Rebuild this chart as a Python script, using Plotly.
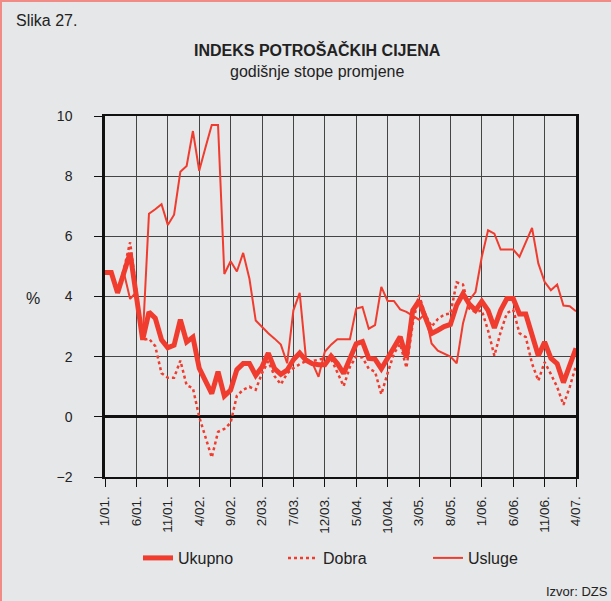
import plotly.graph_objects as go

# month index 0 = 1/01 ... 75 = 4/07
tick_labels = ["1/01.", "6/01.", "11/01.", "4/02.", "9/02.", "2/03.", "7/03.", "12/03.",
               "5/04.", "10/04.", "3/05.", "8/05.", "1/06.", "6/06.", "11/06.", "4/07."]

ukupno = [4.8, 4.8, 4.12, 4.8, 5.45, 4.0, 2.56, 3.48, 3.28, 2.56,
          2.3, 2.38, 3.23, 2.49, 2.65, 1.62, 1.16, 0.77, 1.5, 0.69,
          0.89, 1.57, 1.77, 1.77, 1.38, 1.66, 2.12, 1.6, 1.41, 1.55,
          1.9, 2.12, 1.88, 1.77, 1.73, 1.73, 2.02, 1.77, 1.44, 1.93,
          2.43, 2.5, 1.94, 1.92, 1.6, 1.95, 2.3, 2.66, 1.97, 3.54,
          3.85, 3.3, 2.77, 2.88, 3.0, 3.07, 3.72, 4.09, 3.75, 3.54,
          3.84, 3.54, 2.96, 3.54, 3.93, 3.93, 3.42, 3.42, 2.65, 2.03,
          2.49, 1.95, 1.77, 1.14, 1.71, 2.28]

dobra = [4.8, 4.75, 4.2, 4.9, 5.8, 4.1, 2.56, 2.6, 2.35, 1.45,
         1.3, 1.3, 1.87, 1.05, 0.95, 0.0, -0.65, -1.35, -0.5, -0.4,
         -0.2, 0.7, 0.9, 1.0, 0.9, 1.45, 1.85, 1.35, 1.08, 1.44,
         1.62, 1.75, 1.85, 1.85, 1.9, 1.95, 1.93, 1.5, 1.02, 1.66,
         2.0, 1.97, 1.6, 1.5, 0.75, 1.45, 2.1, 2.43, 1.63, 3.09,
         4.05, 3.4, 3.0, 3.25, 3.4, 3.43, 4.47, 4.4, 3.6, 3.48,
         3.54, 2.87, 2.03, 2.82, 3.45, 3.56, 2.78, 2.65, 1.77, 1.2,
         1.82, 1.42, 0.99, 0.4, 0.99, 1.71]

usluge = [4.8, 4.8, 4.15, 4.8, 3.92, 4.15, 2.56, 6.75, 6.9, 7.07,
          6.38, 6.72, 8.15, 8.34, 9.5, 8.18, 8.95, 9.7, 9.7, 4.75,
          5.17, 4.83, 5.45, 4.59, 3.2, 2.98, 2.78, 2.6, 2.4, 1.78,
          3.54, 4.12, 1.95, 1.8, 1.33, 2.16, 2.4, 2.58, 2.58, 2.58,
          3.6, 3.65, 2.93, 3.05, 4.32, 3.85, 3.85, 3.57, 3.49, 3.35,
          3.23, 3.43, 2.44, 2.2, 2.1, 2.0, 1.78, 3.1, 3.88, 4.15,
          5.32, 6.2, 6.09, 5.56, 5.56, 5.56, 5.32, 5.8, 6.28, 5.1,
          4.49, 4.21, 4.4, 3.7, 3.68, 3.51]

months = list(range(len(ukupno)))
tick_pos = list(range(0, len(ukupno), 5))

RED = "#f03c2e"
BG = "#e6e7e9"
GRID = "#444444"
FONT = "Liberation Sans, Arial, sans-serif"

L, R, T, B = 105, 35, 116, 124
W, H = 611, 601
PW, PH = W - L - R, H - T - B

def px(xp):
    return (xp - L) / PW

def py(yp):
    return (H - B - yp) / PH

fig = go.Figure()
fig.add_trace(go.Scatter(x=months, y=ukupno, mode="lines", name="Ukupno",
                         line=dict(color=RED, width=5)))
fig.add_trace(go.Scatter(x=months, y=dobra, mode="lines", name="Dobra",
                         line=dict(color=RED, width=2.5, dash="dot")))
fig.add_trace(go.Scatter(x=months, y=usluge, mode="lines", name="Usluge",
                         line=dict(color=RED, width=2)))

fig.update_layout(
    width=W, height=H,
    margin=dict(l=L, r=R, t=T, b=B),
    paper_bgcolor=BG, plot_bgcolor=BG,
    font=dict(family=FONT, size=14, color="#222222"),
    showlegend=True,
    legend=dict(orientation="h", x=px(138), xanchor="left", y=py(558), yanchor="middle",
                font=dict(size=16, color="#222222"), bgcolor="rgba(0,0,0,0)",
                entrywidth=100, itemwidth=30, traceorder="normal"),
    xaxis=dict(range=[0, len(ukupno) - 1], tickmode="array", tickvals=tick_pos,
               ticktext=tick_labels, tickangle=-90, showgrid=True, gridcolor=GRID,
               gridwidth=1.3, zeroline=False, showline=True, linecolor="#111111",
               linewidth=1.5, mirror=True, ticks="outside", ticklen=8,
               tickcolor="#111111", tickwidth=1.3, tickfont=dict(size=13.5),
               ticklabelstandoff=4),
    yaxis=dict(range=[-2, 10], tickmode="array", tickvals=[-2, 0, 2, 4, 6, 8, 10],
               ticktext=["\u22122", "0", "2", "4", "6", "8", "10"],
               showgrid=True, gridcolor=GRID, gridwidth=1.3, zeroline=True,
               zerolinecolor="#111111", zerolinewidth=2.5, showline=True,
               linecolor="#111111", linewidth=2.5, mirror=True, ticks="outside",
               ticklen=8, tickcolor="#111111", tickwidth=1.3, tickfont=dict(size=14),
               ticklabelstandoff=19),
)

annots = [
    dict(text="Slika 27.", x=px(14), y=py(20), xanchor="left", yanchor="middle",
         font=dict(size=16)),
    dict(text="<b>INDEKS POTROŠAČKIH CIJENA</b>", x=px(317), y=py(50), xanchor="center",
         yanchor="middle", font=dict(size=16)),
    dict(text="godišnje stope promjene", x=px(317), y=py(71), xanchor="center",
         yanchor="middle", font=dict(size=16)),
    dict(text="%", x=px(33), y=py(298), xanchor="center", yanchor="middle",
         font=dict(size=16)),
    dict(text="Izvor: DZS", x=px(610), y=py(591), xanchor="right", yanchor="middle",
         font=dict(size=13)),
]
for a in annots:
    a.update(xref="paper", yref="paper", showarrow=False)
    fig.add_annotation(**a)

# outer frame (left and top edges)
fig.add_shape(type="line", xref="paper", yref="paper", x0=px(1), x1=px(1), y0=py(0), y1=py(601),
              line=dict(color="#f08c85", width=2))
fig.add_shape(type="line", xref="paper", yref="paper", x0=px(0), x1=px(611), y0=py(1), y1=py(1),
              line=dict(color="#f08c85", width=2))

fig.write_html("out.html", config={"displayModeBar": False},
               post_script="document.body.style.margin='0';document.body.style.background='#e6e7e9';")
